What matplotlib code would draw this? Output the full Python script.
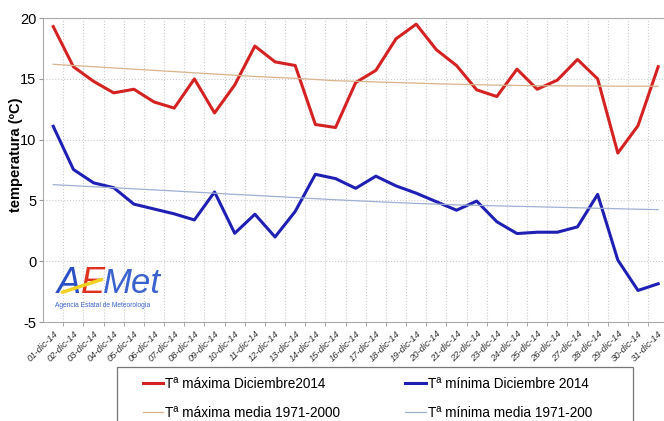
import matplotlib.pyplot as plt
from matplotlib.patches import Rectangle
import numpy as np

# daily temperatures, December 2014
days = list(range(1, 32))
tick_labels = [f"{d:02d}-dic-14" for d in days]

t_max = [19.3, 16.0, 14.8, 13.85, 14.15, 13.1, 12.6, 15.0, 12.2, 14.5,
         17.7, 16.4, 16.1, 11.25, 11.0, 14.7, 15.7, 18.3, 19.5, 17.4,
         16.1, 14.1, 13.55, 15.8, 14.15, 14.9, 16.6, 15.0, 8.9, 11.15, 16.0]
t_min = [11.1, 7.55, 6.45, 6.05, 4.7, 4.3, 3.9, 3.4, 5.7, 2.3,
         3.87, 2.0, 4.1, 7.15, 6.8, 6.0, 7.0, 6.2, 5.6, 4.9,
         4.2, 4.95, 3.25, 2.28, 2.39, 2.39, 2.83, 5.5, 0.1, -2.4, -1.85]
t_max_mean = [16.2, 16.1, 16.0, 15.9, 15.8, 15.7, 15.6, 15.5, 15.4, 15.3,
              15.2, 15.12, 15.05, 14.95, 14.85, 14.8, 14.75, 14.7, 14.65, 14.6,
              14.56, 14.52, 14.49, 14.46, 14.44, 14.43, 14.42, 14.41, 14.4, 14.4, 14.4]
t_min_mean = [6.3, 6.22, 6.13, 6.05, 5.96, 5.87, 5.78, 5.69, 5.6, 5.5,
              5.42, 5.33, 5.24, 5.15, 5.06, 4.98, 4.9, 4.83, 4.76, 4.7,
              4.64, 4.6, 4.56, 4.52, 4.48, 4.44, 4.4, 4.36, 4.32, 4.28, 4.25]

labels = ["Tª máxima Diciembre2014", "Tª mínima Diciembre 2014",
          "Tª máxima media 1971-2000", "Tª mínima media 1971-200"]

plt.rcParams['font.family'] = ['Liberation Sans', 'DejaVu Sans']
plt.rcParams['axes.unicode_minus'] = False

fig = plt.figure(figsize=(6.64, 4.21), dpi=100)
ax = fig.add_axes([0.065, 0.235, 0.935, 0.722])

l1, = ax.plot(days, t_max, color='#d42222', lw=2.2)
l2, = ax.plot(days, t_min, color='#1f1fb4', lw=2.2)
l3, = ax.plot(days, t_max_mean, color='#d8b38c', lw=0.9)
l4, = ax.plot(days, t_min_mean, color='#9fb0d2', lw=0.9)

ax.set_xlim(0.5, 31.29)
ax.set_ylim(-5, 20)
ax.set_yticks([-5, 0, 5, 10, 15, 20])
ax.set_xticks(days)
ax.set_xticklabels(tick_labels, rotation=45, ha='right', rotation_mode='anchor',
                   fontsize=6.8, style='italic', color='#333333')
ax.set_xticks(np.arange(1.5, 31.5, 1), minor=True)
ax.tick_params(axis='x', which='major', length=0, pad=5)
ax.tick_params(axis='x', which='minor', length=3, color='#999999')
ax.tick_params(axis='y', labelsize=10.5, length=3, color='#999999', pad=2)
ax.grid(True, which='minor', axis='x', color='#cccccc', ls=':', lw=0.8)
ax.grid(True, which='major', axis='y', color='#cccccc', ls=':', lw=0.8)

for s in ['left', 'bottom', 'top']:
    ax.spines[s].set_color('#aaaaaa')
ax.spines['right'].set_visible(False)

ax.set_ylabel("temperatura (ºC)", fontsize=10.5, fontweight='bold')
ax.yaxis.set_label_coords(-0.032, 0.55)

# AEMet logo as text
ax.text(1.2, -2.65, "A", fontsize=26, color='#2b4fc4', style='italic')
ax.text(2.35, -2.65, "E", fontsize=26, color='#e0301e', style='italic')
ax.text(3.45, -2.65, "Met", fontsize=25, color='#3a63d0', style='italic')
ax.plot([1.45, 3.4], [-2.55, -1.5], color='#f0d020', lw=2.5,
        solid_capstyle='round', zorder=4)
ax.text(1.1, -3.75, "Agencia Estatal de Meteorología", fontsize=4.8, color='#3a63d0')

leg = fig.legend([l1, l3, l2, l4], [labels[0], labels[2], labels[1], labels[3]],
                 ncol=2, loc='upper left', bbox_to_anchor=(143 / 664, 1 - 377 / 421),
                 frameon=False, fontsize=9.8, handlelength=1.5,
                 handletextpad=0.15, labelspacing=1.1, columnspacing=4.75,
                 borderpad=0, borderaxespad=0)
fig.add_artist(Rectangle((117 / 664, -0.01), 516 / 664, 1 - 367 / 421 + 0.01,
                         transform=fig.transFigure, fill=False,
                         edgecolor='#777777', lw=0.9, zorder=5))

fig.savefig("out.png", dpi=100)
